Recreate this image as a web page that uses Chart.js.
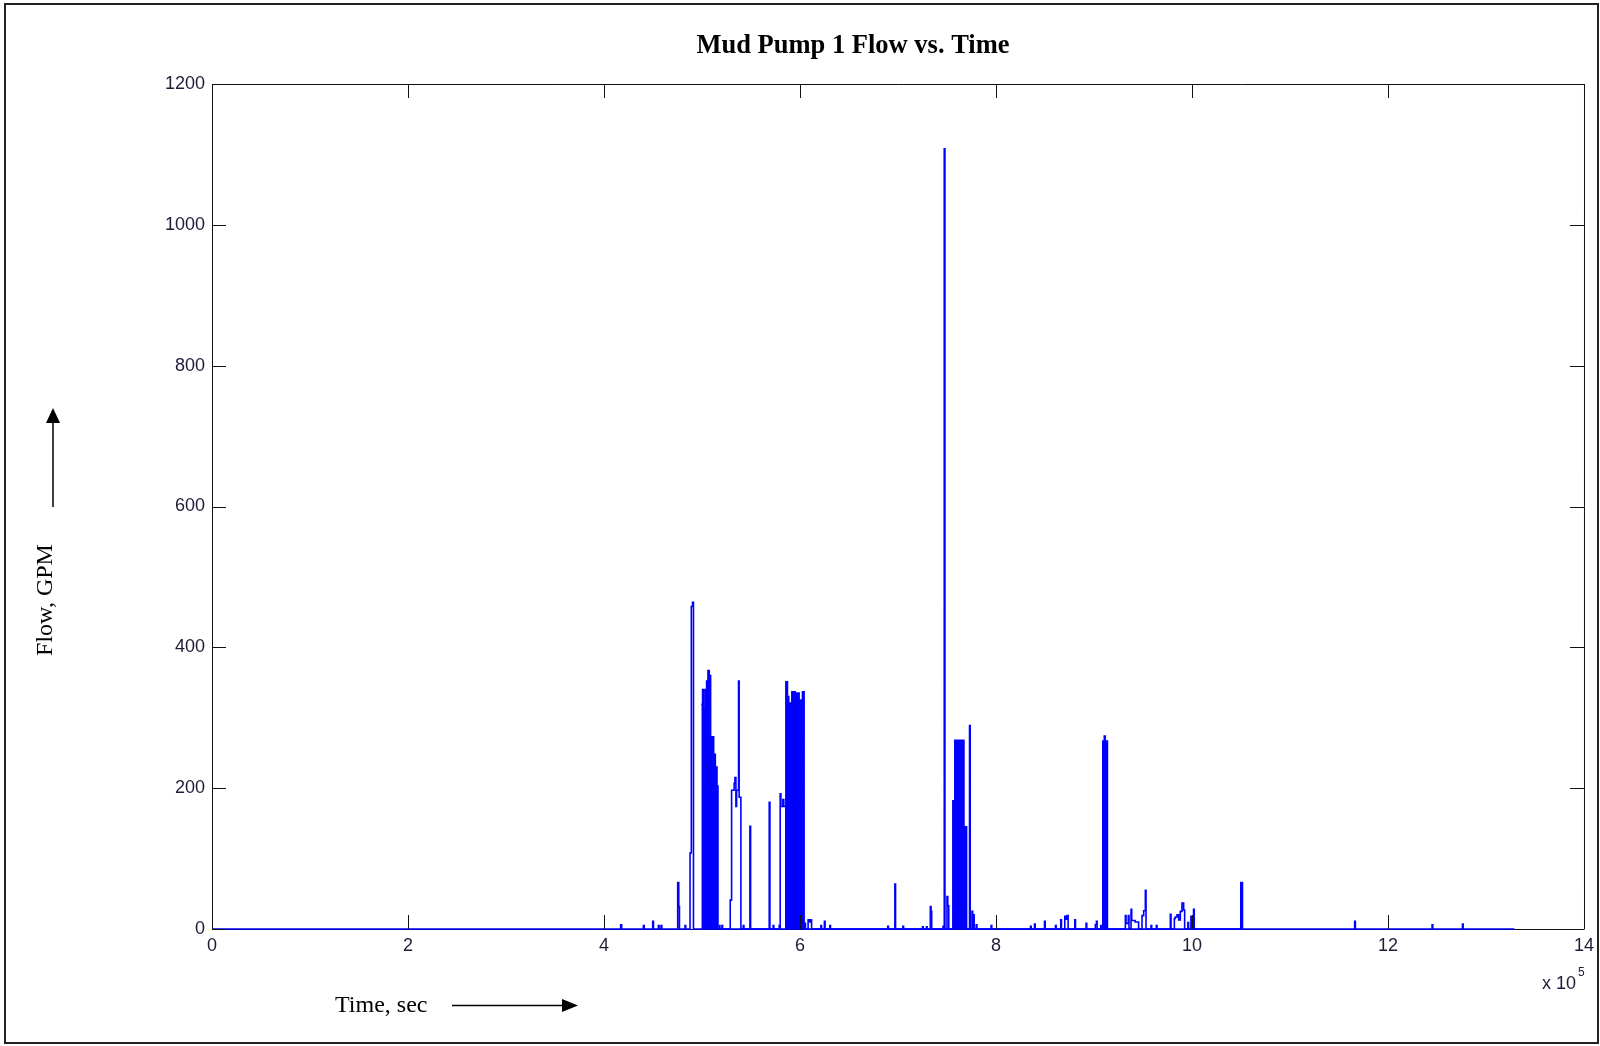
<!DOCTYPE html>
<html>
<head>
<meta charset="utf-8">
<title>Mud Pump 1 Flow vs. Time</title>
<script src="https://cdn.jsdelivr.net/npm/chart.js@4.4.1/dist/chart.umd.min.js"></script>
<style>
  html, body { margin: 0; padding: 0; background: #fff; }
  #wrap { width: 1600px; height: 1046px; }
</style>
</head>
<body>
<div id="wrap"><canvas id="flowChart" width="1600" height="1046"></canvas></div>
<script>
// Pump 1 flow log: sample-and-hold change points (time in sec, flow in GPM)
const flowTimes = [
  0, 417000, 418000, 440200, 441000, 449700, 450500, 455500, 456200, 458200, 459000,
  475200, 476300, 477000, 482700, 483400, 487800, 489100, 490300, 491300,
  517600, 518300, 520300, 521000, 528800, 530200, 532800, 533600, 534600, 535300,
  537300, 537900, 539700, 542100, 542800, 548900, 549600, 568600, 569300,
  572600, 573300, 578800, 579500, 579800, 580500, 582500, 583500, 585600,
  604900, 605600, 608300, 610000, 611100, 611800, 621300, 622000, 624900, 625600,
  630400, 631100, 689500, 690200, 696800, 697500, 705000, 705700, 725000, 725700,
  729000, 729700, 733000, 733700, 734400, 746000, 746900, 747200, 747900,
  750000, 750800, 751800, 773000, 773700, 775500, 776200, 777000, 777700,
  779800, 780500, 795000, 795700, 835200, 835900, 839300, 840000, 849500, 850200,
  860700, 861400, 866100, 866800, 870200, 871300, 872500, 873600, 880400, 881100,
  891900, 892600, 901400, 902500, 903200, 906900, 907600,
  932000, 932700, 935000, 935700, 937800, 938500, 942000, 945500,
  949000, 950700, 952400, 953100, 958200, 958900, 963600, 964300,
  977900, 978600, 982000, 983000, 984700, 986400, 988100, 989800, 991500, 992500,
  995800, 996500, 998900, 999600, 1001600, 1002300,
  1166000, 1166700, 1245000, 1245700, 1276000, 1276700, 1329000
];
const flowValues = [
  0, 6, 0, 5, 0, 11, 0, 5, 0, 5, 0,
  66, 32, 0, 5, 0, 108, 458, 464, 0,
  5, 0, 5, 0, 41, 197, 207, 215, 174, 197,
  352, 187, 0, 5, 0, 146, 0, 180, 0,
  5, 0, 5, 0, 192, 174, 184, 174, 0,
  8, 0, 13, 10, 13, 0, 5, 0, 11, 0,
  5, 0, 4, 0, 64, 0, 4, 0, 3, 0,
  3, 0, 32, 25, 0, 4, 0, 1108, 0,
  46, 33, 0, 289, 0, 25, 0, 20, 0,
  6, 0, 5, 0, 4, 0, 7, 0, 11, 0,
  5, 0, 13, 0, 18, 14, 19, 0, 13, 0,
  8, 0, 6, 11, 0, 5, 0,
  19, 8, 19, 0, 28, 12, 10, 0,
  19, 26, 55, 0, 5, 0, 5, 0,
  21, 0, 15, 17, 20, 13, 25, 37, 27, 0,
  9, 0, 18, 0, 28, 0,
  11, 0, 6, 0, 7, 0, 0
];

// Stretches where the pump cycles on/off faster than one pixel (shown solid)
const burstTimes = [
  499300, 500600, 501700, 503400, 504700, 506100, 507400, 508800, 511900, 513600, 515300, 516300,
  585600, 587200, 588500, 589500, 591700, 595100, 599100, 600900, 602500, 604200,
  756000, 758000, 767300, 770000,
  909000, 910500, 911500, 913700,
  1049800, 1051500
];
const burstValues = [
  319, 340, 312, 340, 352, 367, 360, 273, 248, 230, 203, 0,
  351, 330, 309, 321, 337, 335, 325, 271, 337, 0,
  182, 268, 145, 0,
  267, 274, 267, 0,
  66, 0
];

const xTicks = [0, 200000, 400000, 600000, 800000, 1000000, 1200000, 1400000];
const yTicks = [0, 200, 400, 600, 800, 1000, 1200];

const sansFont = 'Arial, "Liberation Sans", sans-serif';
const serifFont = '"Times New Roman", "Liberation Serif", serif';
const tickColor = "#1c1c38";
const lineBlue = "#0000ff";

function toPoints(xs, ys) {
  return xs.map((t, i) => ({ x: t, y: ys[i] }));
}

function arrowHead(ctx, tipX, tipY, dir, len, half) {
  // dir: "right" or "up"
  ctx.beginPath();
  if (dir === "right") {
    ctx.moveTo(tipX, tipY);
    ctx.lineTo(tipX - len, tipY - half);
    ctx.lineTo(tipX - len, tipY + half);
  } else {
    ctx.moveTo(tipX, tipY);
    ctx.lineTo(tipX - half, tipY + len);
    ctx.lineTo(tipX + half, tipY + len);
  }
  ctx.closePath();
  ctx.fill();
}

// MATLAB-style box: inward ticks on all sides, outer frame, labels with arrows
const figureDecor = {
  id: "figureDecor",
  afterDatasetsDraw(chart) {
    const { ctx, chartArea: a, scales } = chart;
    const tl = 14;
    ctx.save();
    ctx.strokeStyle = "#111";
    ctx.lineWidth = 1;
    ctx.beginPath();
    ctx.moveTo(a.left, a.top + 0.5);
    ctx.lineTo(a.right + 0.5, a.top + 0.5);
    ctx.lineTo(a.right + 0.5, a.bottom);
    ctx.moveTo(scales.x.getPixelForValue(flowTimes[flowTimes.length - 1]), a.bottom + 0.5);
    ctx.lineTo(a.right + 0.5, a.bottom + 0.5);
    xTicks.forEach(v => {
      const px = Math.round(scales.x.getPixelForValue(v)) + 0.5;
      ctx.moveTo(px, a.bottom);
      ctx.lineTo(px, a.bottom - tl);
      ctx.moveTo(px, a.top);
      ctx.lineTo(px, a.top + tl);
    });
    yTicks.forEach(v => {
      const py = Math.round(scales.y.getPixelForValue(v)) + 0.5;
      ctx.moveTo(a.left, py);
      ctx.lineTo(a.left + tl, py);
      ctx.moveTo(a.right, py);
      ctx.lineTo(a.right - tl, py);
    });
    ctx.stroke();
    ctx.restore();
  },
  afterDraw(chart) {
    const { ctx } = chart;
    ctx.save();
    ctx.fillStyle = "#000";
    ctx.strokeStyle = "#000";
    ctx.textBaseline = "middle";

    // title
    ctx.font = "bold 26.5px " + serifFont;
    ctx.textAlign = "center";
    ctx.fillText("Mud Pump 1 Flow vs. Time", 853, 46);

    // x axis label + arrow
    ctx.font = "24px " + serifFont;
    ctx.textAlign = "left";
    ctx.fillText("Time, sec", 335, 1006);
    ctx.lineWidth = 1.5;
    ctx.beginPath();
    ctx.moveTo(452, 1005.5);
    ctx.lineTo(566, 1005.5);
    ctx.stroke();
    arrowHead(ctx, 578, 1005.5, "right", 16, 6.5);

    // y axis label + arrow
    ctx.save();
    ctx.translate(46, 600);
    ctx.rotate(-Math.PI / 2);
    ctx.textAlign = "center";
    ctx.fillText("Flow, GPM", 0, 0);
    ctx.restore();
    ctx.beginPath();
    ctx.moveTo(53, 507);
    ctx.lineTo(53, 420);
    ctx.stroke();
    arrowHead(ctx, 53, 408, "up", 15, 7);

    // exponent note for the time axis
    ctx.fillStyle = tickColor;
    ctx.font = "18px " + sansFont;
    ctx.textAlign = "left";
    ctx.fillText("x 10", 1542, 984);
    ctx.font = "12px " + sansFont;
    ctx.fillText("5", 1578, 973);

    // figure frame
    ctx.strokeStyle = "#222";
    ctx.lineWidth = 2;
    ctx.strokeRect(5, 4, 1593, 1039);
    ctx.restore();
  }
};

new Chart(document.getElementById("flowChart"), {
  type: "line",
  data: {
    datasets: [
      {
        label: "Flow",
        data: toPoints(flowTimes, flowValues),
        borderColor: lineBlue,
        borderWidth: 1.6,
        stepped: true,
        pointRadius: 0,
        fill: false,
        clip: 3
      },
      {
        label: "Flow (cycling)",
        data: toPoints(burstTimes, burstValues),
        borderColor: lineBlue,
        backgroundColor: lineBlue,
        borderWidth: 1.6,
        stepped: true,
        pointRadius: 0,
        fill: "origin",
        clip: 3
      }
    ]
  },
  options: {
    responsive: false,
    animation: false,
    events: [],
    layout: { padding: { top: 84, right: 14, left: 0, bottom: 0 } },
    scales: {
      x: {
        type: "linear",
        min: 0,
        max: 1400000,
        afterBuildTicks: s => { s.ticks = xTicks.map(v => ({ value: v })); },
        afterFit: s => { s.height = 117; },
        ticks: {
          color: tickColor,
          font: { family: sansFont, size: 18 },
          padding: 6,
          maxRotation: 0,
          callback: v => String(v / 100000)
        },
        grid: { display: false, drawTicks: false },
        border: { display: true, color: "#111", width: 1 }
      },
      y: {
        min: 0,
        max: 1200,
        afterBuildTicks: s => { s.ticks = yTicks.map(v => ({ value: v })); },
        afterFit: s => { s.width = 212; },
        ticks: {
          color: tickColor,
          font: { family: sansFont, size: 18 },
          padding: 7,
          callback: v => String(v)
        },
        grid: { display: false, drawTicks: false },
        border: { display: true, color: "#111", width: 1 }
      }
    },
    plugins: {
      legend: { display: false },
      tooltip: { enabled: false },
      title: { display: false }
    }
  },
  plugins: [figureDecor]
});
</script>
</body>
</html>
